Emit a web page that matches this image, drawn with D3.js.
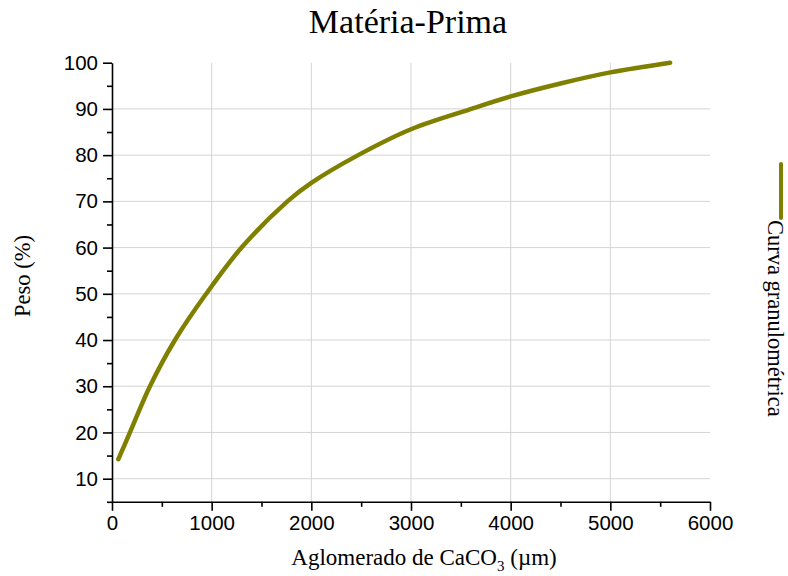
<!DOCTYPE html>
<html>
<head>
<meta charset="utf-8">
<script src="https://cdn.jsdelivr.net/npm/d3@7"></script>
<style>
  body { margin: 0; background: #fff; }
  .tick text { font-family: "Liberation Sans", Arial, sans-serif; font-size: 20.5px; fill: #000; }
  .axis path, .axis line { stroke: #000; stroke-width: 1.6px; }
  .serif { font-family: "Liberation Serif", "Times New Roman", serif; fill: #000; }
</style>
</head>
<body>
<script>
// data
const sizes = [63, 180, 381, 632, 945, 1300, 1760, 2000, 2470, 3000, 3590, 4000, 4500, 5000, 5600];
const weights = [14.2, 20, 30, 40, 50, 60, 70, 74, 80, 85.6, 89.9, 92.7, 95.5, 97.9, 100];
const xTicks = [0, 1000, 2000, 3000, 4000, 5000, 6000];
const yTicks = [10, 20, 30, 40, 50, 60, 70, 80, 90, 100];
const seriesName = "Curva granulométrica";

const margin = { top: 62.7, right: 78, bottom: 74.2, left: 112 },
    W = 788, H = 576,
    width = W - margin.left - margin.right,
    height = H - margin.top - margin.bottom;

const svg = d3.select("body")
    .append("svg")
    .attr("width", W)
    .attr("height", H);

const g = svg.append("g")
    .attr("transform", `translate(${margin.left},${margin.top})`);

const x = d3.scaleLinear().domain([0, 6000]).range([0, width]);
const y = d3.scaleLinear().domain([5, 100]).range([height, 0]);

// grid
g.append("g")
    .selectAll("line")
    .data(xTicks.filter(d => d > 0 && d < 6000))
    .join("line")
    .attr("x1", d => x(d)).attr("x2", d => x(d))
    .attr("y1", 0).attr("y2", height)
    .attr("stroke", "#d4d4d4").attr("stroke-width", 1);

g.append("g")
    .selectAll("line")
    .data(yTicks.filter(d => d < 100))
    .join("line")
    .attr("x1", 0).attr("x2", width)
    .attr("y1", d => y(d)).attr("y2", d => y(d))
    .attr("stroke", "#d4d4d4").attr("stroke-width", 1);

// minor ticks
g.append("g")
    .attr("class", "axis")
    .attr("transform", `translate(0,${height})`)
    .call(d3.axisBottom(x).tickValues(d3.range(500, 6000, 1000)).tickSize(5).tickFormat(""))
    .call(a => a.select(".domain").remove());

g.append("g")
    .attr("class", "axis")
    .call(d3.axisLeft(y).tickValues(d3.range(5, 100, 10)).tickSize(5).tickFormat(""))
    .call(a => a.select(".domain").remove());

// major axes
g.append("g")
    .attr("class", "axis")
    .attr("transform", `translate(0,${height})`)
    .call(d3.axisBottom(x).tickValues(xTicks).tickSize(9).tickSizeOuter(0).tickPadding(5).tickFormat(d3.format("d")));

g.append("g")
    .attr("class", "axis")
    .call(d3.axisLeft(y).tickValues(yTicks).tickSize(9).tickSizeOuter(0).tickPadding(5).tickFormat(d3.format("d")));

// curve
const line = d3.line()
    .x((d, i) => x(sizes[i]))
    .y(d => y(d))
    .curve(d3.curveCatmullRom.alpha(0.5));

g.append("path")
    .datum(weights)
    .attr("fill", "none")
    .attr("stroke", "#808000")
    .attr("stroke-width", 4.5)
    .attr("stroke-linecap", "round")
    .attr("d", line);

// titles
svg.append("text")
    .attr("class", "serif")
    .attr("x", 408).attr("y", 33)
    .attr("text-anchor", "middle")
    .style("font-size", "34px")
    .text("Matéria-Prima");

const xl = svg.append("text")
    .attr("class", "serif")
    .attr("x", 424).attr("y", 565)
    .attr("text-anchor", "middle")
    .style("font-size", "23px");
xl.append("tspan").text("Aglomerado de CaCO");
xl.append("tspan").attr("dy", 6).style("font-size", "15px").text("3");
xl.append("tspan").attr("dy", -6).text(" (\u00b5m)");

svg.append("text")
    .attr("class", "serif")
    .attr("transform", "translate(30,276) rotate(-90)")
    .attr("text-anchor", "middle")
    .style("font-size", "22.5px")
    .text("Peso (%)");

// legend
svg.append("line")
    .attr("x1", 781).attr("x2", 781)
    .attr("y1", 164).attr("y2", 218)
    .attr("stroke", "#808000")
    .attr("stroke-width", 4)
    .attr("stroke-linecap", "round");

svg.append("text")
    .attr("class", "serif")
    .attr("transform", "translate(768,220) rotate(90)")
    .style("font-size", "22.5px")
    .text(seriesName);
</script>
</body>
</html>
